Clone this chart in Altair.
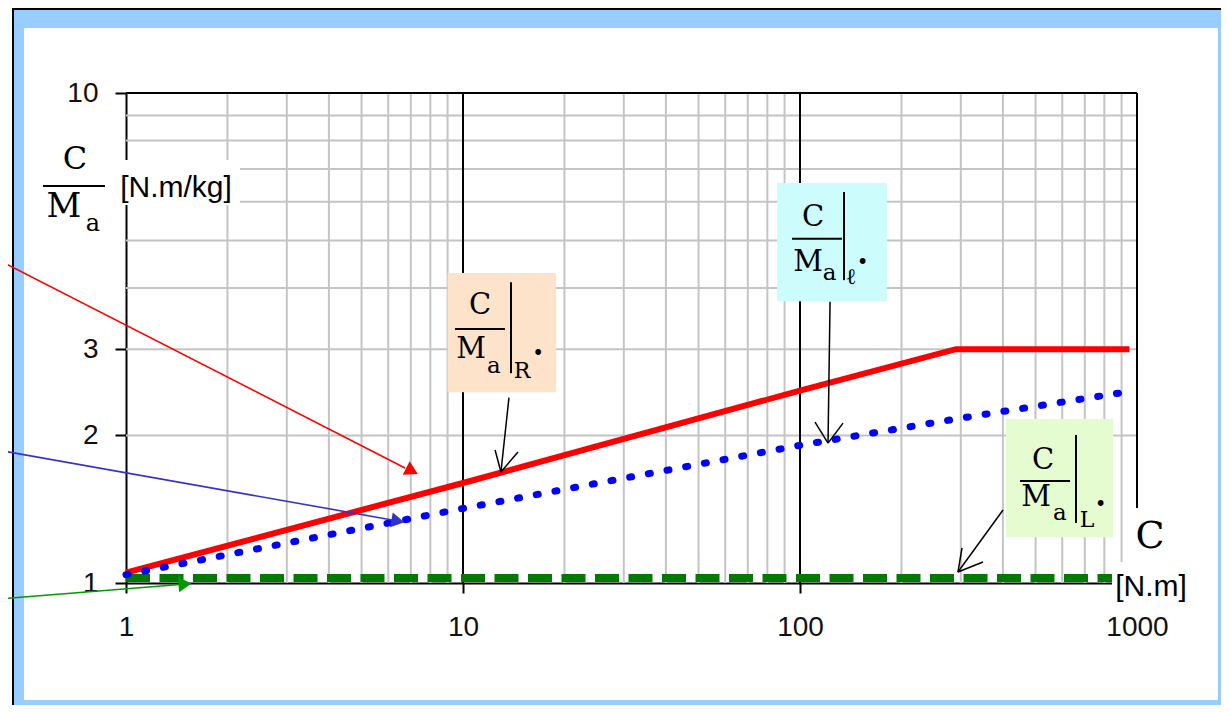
import altair as alt
import pandas as pd

# ---------------- data ----------------
red_x = [1, 10, 100, 290, 950]
red_y = [1.05, 1.6, 2.47, 3.0, 3.0]
blue_x = [1, 10, 100, 300, 950]
blue_y = [1.04, 1.42, 1.91, 2.17, 2.46]
green_x = [1, 850]
green_y = [1.024, 1.024]

x_ticks = [1, 10, 100, 1000]
y_ticks = [1, 2, 3, 10]
x_grid = [2, 3, 4, 5, 6, 7, 8, 9, 20, 30, 40, 50, 60, 70, 80, 90,
          200, 300, 400, 500, 600, 700, 800, 900]
y_grid = [2, 3, 4, 5, 6, 7, 8, 9]
x_major = [10, 100, 1000]
y_major = [10]

# annotation boxes (data units)
box_name = ["R", "l", "L"]
box_x = [9.0, 85.5, 408]
box_x2 = [18.9, 181, 849]
box_y = [2.45, 3.76, 1.24]
box_y2 = [4.29, 6.55, 2.16]
box_fill = ["#fde3c9", "#ccfcfc", "#e5fbd0"]

# texts inside boxes (data units)
txt = ["C", "M", "a", "R", "•",
       "C", "M", "a", "ℓ", "•",
       "C", "M", "a", "L", "•"]
txt_x = [11.23, 10.56, 12.35, 14.96, 16.7,
         109.3, 105.6, 122.5, 141.7, 153.5,
         526, 501.5, 590, 710.6, 780]
txt_y = [3.69, 3.00, 2.77, 2.71, 2.93,
         5.58, 4.52, 4.29, 4.21, 4.50,
         1.782, 1.498, 1.39, 1.345, 1.44]
txt_fs = [29, 29, 23, 22, 20] * 3

# black segments: fraction bars, vertical bars, pointer arrows
seg_x = [9.47, 13.88, 13.69, 12.45, 14.56,
         94.7, 135.1, 122.8, 110.8, 134.2,
         449.6, 659.2, 400.4, 302.5, 349.1]
seg_y = [3.30, 4.11, 2.39, 1.868, 1.851,
         5.04, 6.28, 3.75, 2.13, 2.12,
         1.615, 2.005, 1.409, 1.179, 1.104]
seg_x2 = [13.32, 13.88, 12.96, 12.96, 12.96,
          133.2, 135.1, 121.1, 121.1, 121.1,
          632.8, 659.2, 294.3, 294.3, 294.3]
seg_y2 = [3.30, 2.68, 1.685, 1.685, 1.685,
          5.04, 4.15, 1.93, 1.93, 1.93,
          1.615, 1.326, 1.053, 1.053, 1.053]
seg_w = [2, 2, 1.5, 1.5, 1.5] * 3

# coloured arrows coming from the left
arr_x = [0.43, 0.43, 0.43]
arr_y = [4.52, 1.86, 0.929]
arr_x2 = [6.73, 6.16, 1.446]
arr_y2 = [1.717, 1.345, 0.993]
arr_hx = [7.06, 6.41, 1.497]
arr_hy = [1.692, 1.338, 0.995]
arr_angle = [27, 10, 355]
arr_color = ["#ff0000", "#3333cc", "#009900"]

# ---------------- chart ----------------
xs = alt.Scale(type="log", domain=[1, 1000], nice=False)
ys = alt.Scale(type="log", domain=[1, 10], nice=False)
xaxis = alt.Axis(values=x_ticks, format="d", title=None, grid=False,
                 domainColor="black", domainWidth=2, tickColor="black",
                 tickWidth=2, tickSize=10, labelFont="Liberation Sans",
                 labelFontSize=28, labelColor="#111111", labelPadding=20,
                 labelFlush=False, labelOverlap=False)
yaxis = alt.Axis(values=y_ticks, format="d", title=None, grid=False,
                 domainColor="black", domainWidth=2, tickColor="black",
                 tickWidth=2, tickSize=11, labelFont="Liberation Sans",
                 labelFontSize=28, labelColor="#111111", labelPadding=17,
                 labelOverlap=False)


def X(f):
    return alt.X(f, type="quantitative", scale=xs, axis=xaxis)


def Y(f):
    return alt.Y(f, type="quantitative", scale=ys, axis=yaxis)


layers = []

# grid
layers.append(alt.Chart(pd.DataFrame({"x": x_grid})).mark_rule(
    color="#c4c4c4", strokeWidth=2).encode(x=X("x")))
layers.append(alt.Chart(pd.DataFrame({"y": y_grid})).mark_rule(
    color="#c4c4c4", strokeWidth=2).encode(y=Y("y")))
layers.append(alt.Chart(pd.DataFrame({"x": x_major})).mark_rule(
    color="black", strokeWidth=2).encode(x=X("x")))
layers.append(alt.Chart(pd.DataFrame({"y": y_major})).mark_rule(
    color="black", strokeWidth=2).encode(y=Y("y")))

one = pd.DataFrame({"k": [0]})


def deco_rect(x, x2, y, y2, color):
    return alt.Chart(one).mark_rect(color=color, strokeWidth=0).encode(
        x=alt.value(x), x2=alt.value(x2), y=alt.value(y), y2=alt.value(y2))


def deco_text(t, x, y, size, font, align="center"):
    return alt.Chart(one).mark_text(
        text=t, font=font, fontSize=size, color="black", align=align,
        baseline="middle").encode(x=alt.value(x), y=alt.value(y))


# frame
FRAME = "#99ccff"
layers += [
    deco_rect(-114, 1103, -85, -83, "black"),
    deco_rect(-114, -112, -85, 620, "black"),
    deco_rect(-112, 1103, -83, -65, FRAME),
    deco_rect(-112, -102, -83, 620, FRAME),
    deco_rect(1092, 1103, -83, 620, FRAME),
    deco_rect(-112, 1103, 607, 620, FRAME),
]

# data series
layers.append(alt.Chart(pd.DataFrame({"x": green_x, "y": green_y})).mark_line(
    color="#007a00", strokeWidth=8, strokeDash=[24, 9.5], strokeCap="butt"
).encode(x=X("x"), y=Y("y")))
layers.append(alt.Chart(pd.DataFrame({"x": red_x, "y": red_y})).mark_line(
    color="#ff0000", strokeWidth=6).encode(x=X("x"), y=Y("y")))
layers.append(alt.Chart(pd.DataFrame({"x": blue_x, "y": blue_y})).mark_line(
    color="#0000ff", strokeWidth=7, strokeDash=[2, 17], strokeCap="round"
).encode(x=X("x"), y=Y("y")))

# annotation boxes
layers.append(alt.Chart(pd.DataFrame({
    "n": box_name, "x": box_x, "x2": box_x2, "y": box_y, "y2": box_y2,
    "c": box_fill})).mark_rect(strokeWidth=0).encode(
    x=X("x"), x2="x2:Q", y=Y("y"), y2="y2:Q",
    color=alt.Color("c:N", scale=None)))
layers.append(alt.Chart(pd.DataFrame({
    "x": seg_x, "y": seg_y, "x2": seg_x2, "y2": seg_y2, "w": seg_w})).mark_rule(
    color="black").encode(
    x=X("x"), x2="x2:Q", y=Y("y"), y2="y2:Q",
    strokeWidth=alt.StrokeWidth("w:Q", scale=None)))
layers.append(alt.Chart(pd.DataFrame({
    "t": txt, "x": txt_x, "y": txt_y, "fs": txt_fs})).mark_text(
    font="DejaVu Serif", color="black", align="center", baseline="middle"
).encode(x=X("x"), y=Y("y"), text="t:N",
         size=alt.Size("fs:Q", scale=None)))

# coloured arrows
layers.append(alt.Chart(pd.DataFrame({
    "x": arr_x, "y": arr_y, "x2": arr_x2, "y2": arr_y2, "c": arr_color})).mark_rule(
    strokeWidth=1.6).encode(
    x=X("x"), x2="x2:Q", y=Y("y"), y2="y2:Q",
    color=alt.Color("c:N", scale=None)))
layers.append(alt.Chart(pd.DataFrame({
    "x": arr_hx, "y": arr_hy, "a": arr_angle, "c": arr_color})).mark_point(
    shape="triangle-right", filled=True, size=230, opacity=1).encode(
    x=X("x"), y=Y("y"), angle=alt.Angle("a:Q", scale=None),
    color=alt.Color("c:N", scale=None)))

# axis titles
layers += [
    deco_text("C", -51, 66, 32, "DejaVu Serif"),
    alt.Chart(one).mark_rule(color="black", strokeWidth=2).encode(
        x=alt.value(-83), x2=alt.value(-21), y=alt.value(93), y2=alt.value(93)),
    deco_text("M", -62, 114, 34, "DejaVu Serif"),
    deco_text("a", -33, 131, 24, "DejaVu Serif"),
    deco_rect(-8, 114, 67, 112, "white"),
    deco_text("[N.m/kg]", 50, 95, 30, "Liberation Sans"),
    deco_rect(1002, 1049, 415, 469, "white"),
    deco_text("C", 1024, 444, 38, "DejaVu Serif"),
    deco_rect(986, 1066, 469, 513, "white"),
    deco_text("[N.m]", 1025, 494, 30, "Liberation Sans"),
]

chart = alt.layer(*layers).properties(
    width=1011, height=490,
    padding={"left": 118, "top": 85, "right": 84, "bottom": 122},
    autosize=alt.AutoSizeParams(type="none"),
    background="white",
).configure_view(stroke=None)

chart.save("out.html", embed_options={"renderer": "svg", "actions": False})
